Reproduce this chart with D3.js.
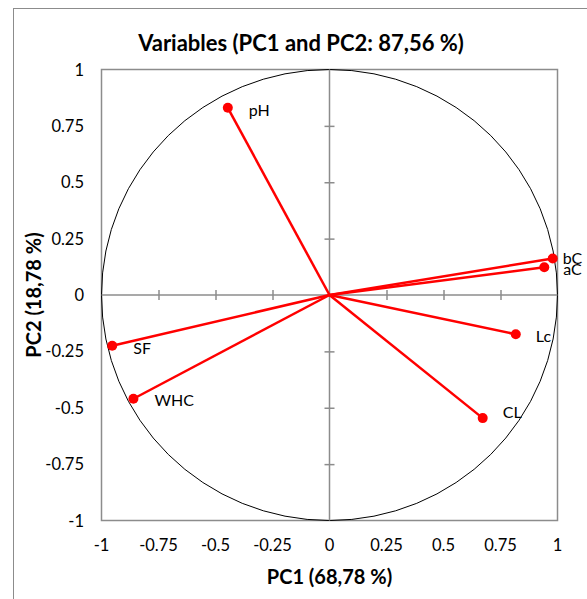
<!DOCTYPE html>
<html lang="en">
<head>
  <meta charset="UTF-8">
  <title>Variables (PC1 and PC2)</title>
  <script src="https://d3js.org/d3.v7.min.js"></script>
  <style>
    body {
      margin: 0;
      padding: 0;
      background: #fff;
      font-family: Lato, 'Open Sans', sans-serif;
    }
  </style>
</head>
<body>
  <div id="chart"></div>
  <script>
    // variables and their loadings on PC1 / PC2
    const variables = ['pH', 'bC', 'aC', 'Lc', 'CL', 'SF', 'WHC'];
    const pc1 = [-0.446, 0.979, 0.942, 0.817, 0.672, -0.953, -0.860];
    const pc2 = [0.830, 0.162, 0.123, -0.174, -0.546, -0.225, -0.460];
    const ticks = [-1, -0.75, -0.5, -0.25, 0, 0.25, 0.5, 0.75, 1];

    const W = 587, H = 599;
    const plotL = 101.5, plotR = 557.5, plotT = 69.5, plotB = 520.5;

    const svg = d3.select('#chart').append('svg')
      .attr('width', W)
      .attr('height', H);

    // outer chart border
    svg.append('rect')
      .attr('x', 13.5).attr('y', 8.5)
      .attr('width', 700).attr('height', 700)
      .attr('fill', 'none')
      .attr('stroke', '#8c8c8c')
      .attr('stroke-width', 1);

    const x = d3.scaleLinear().domain([-1, 1]).range([plotL, plotR]);
    const y = d3.scaleLinear().domain([-1, 1]).range([plotB, plotT]);

    // plot frame
    svg.append('rect')
      .attr('x', plotL).attr('y', plotT)
      .attr('width', plotR - plotL).attr('height', plotB - plotT)
      .attr('fill', 'none')
      .attr('stroke', '#8c8c8c')
      .attr('stroke-width', 1.5);

    // correlation circle
    svg.append('ellipse')
      .attr('cx', x(0)).attr('cy', y(0))
      .attr('rx', x(1) - x(0)).attr('ry', y(0) - y(1))
      .attr('fill', 'none')
      .attr('stroke', '#000')
      .attr('stroke-width', 1);

    // axes through origin
    const inner = ticks.filter(d => d !== 0 && Math.abs(d) !== 1);
    const xAxis = d3.axisBottom(x).tickValues(inner).tickSize(10).tickFormat('');
    svg.append('g')
      .attr('transform', `translate(0,${y(0) - 5})`)
      .call(xAxis)
      .call(g => g.select('.domain').remove())
      .call(g => g.selectAll('line').attr('stroke', '#8c8c8c').attr('stroke-width', 1.5));
    svg.append('line')
      .attr('x1', plotL).attr('x2', plotR)
      .attr('y1', y(0)).attr('y2', y(0))
      .attr('stroke', '#8c8c8c').attr('stroke-width', 1.5);

    const yAxis = d3.axisRight(y).tickValues(inner).tickSize(10).tickFormat('');
    svg.append('g')
      .attr('transform', `translate(${x(0) - 5},0)`)
      .call(yAxis)
      .call(g => g.select('.domain').remove())
      .call(g => g.selectAll('line').attr('stroke', '#8c8c8c').attr('stroke-width', 1.5));
    svg.append('line')
      .attr('x1', x(0)).attr('x2', x(0))
      .attr('y1', plotT).attr('y2', plotB)
      .attr('stroke', '#8c8c8c').attr('stroke-width', 1.5);

    // tick labels
    svg.append('g').selectAll('text')
      .data(ticks).enter().append('text')
      .attr('x', d => x(d))
      .attr('y', 551)
      .attr('text-anchor', 'middle')
      .attr('font-size', 16.5)
      .attr('fill', '#000')
      .text(d => d);

    svg.append('g').selectAll('text')
      .data(ticks).enter().append('text')
      .attr('x', 84)
      .attr('y', d => y(d) + 6)
      .attr('text-anchor', 'end')
      .attr('font-size', 16.5)
      .attr('fill', '#000')
      .text(d => d);

    // vectors
    const idx = d3.range(variables.length);
    svg.append('g').selectAll('line')
      .data(idx).enter().append('line')
      .attr('x1', x(0)).attr('y1', y(0))
      .attr('x2', i => x(pc1[i])).attr('y2', i => y(pc2[i]))
      .attr('stroke', '#ff0000')
      .attr('stroke-width', 2.5);

    svg.append('g').selectAll('circle')
      .data(idx).enter().append('circle')
      .attr('cx', i => x(pc1[i])).attr('cy', i => y(pc2[i]))
      .attr('r', 5)
      .attr('fill', '#ff0000');

    // label offsets from the point (px)
    const labelOff = {
      pH: [21, 8], bC: [10, 6], aC: [19, 8], Lc: [20, 8],
      CL: [20, 0], SF: [21, 8], WHC: [21, 7]
    };
    svg.append('g').selectAll('text')
      .data(idx).enter().append('text')
      .attr('x', i => x(pc1[i]) + labelOff[variables[i]][0])
      .attr('y', i => y(pc2[i]) + labelOff[variables[i]][1])
      .attr('font-size', 16)
      .attr('fill', '#000')
      .text(i => variables[i]);

    // titles
    svg.append('text')
      .attr('x', 301).attr('y', 51)
      .attr('text-anchor', 'middle')
      .attr('font-size', 22)
      .attr('font-weight', 'bold')
      .text('Variables (PC1 and PC2: 87,56 %)');

    svg.append('text')
      .attr('x', x(0)).attr('y', 584)
      .attr('text-anchor', 'middle')
      .attr('font-size', 20)
      .attr('font-weight', 'bold')
      .text('PC1 (68,78 %)');

    svg.append('text')
      .attr('transform', `translate(41,${y(0)}) rotate(-90)`)
      .attr('text-anchor', 'middle')
      .attr('font-size', 20)
      .attr('font-weight', 'bold')
      .text('PC2 (18,78 %)');
  </script>
</body>
</html>
